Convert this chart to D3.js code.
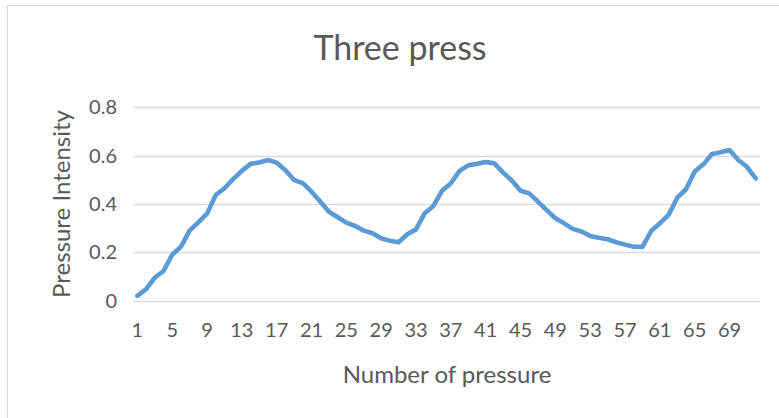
<!DOCTYPE html>
<html>
<head>
<meta charset="utf-8">
<script src="https://cdn.jsdelivr.net/npm/d3@7/dist/d3.min.js"></script>
<style>
  html, body { margin: 0; padding: 0; background: #ffffff; }
  svg { display: block; }
  text { font-family: "Lato", "Open Sans", sans-serif; fill: #595959; }
</style>
</head>
<body>
<svg id="chart" width="779" height="418"></svg>
<script>
// Press sequence numbers 1..72
const categories = d3.range(1, 73);

// Measured pressure intensity for each press
const intensity = [
  0.020, 0.048, 0.095, 0.123, 0.190, 0.223, 0.290, 0.324, 0.360, 0.437,
  0.465, 0.503, 0.537, 0.566, 0.572, 0.582, 0.571, 0.540, 0.499, 0.486,
  0.451, 0.410, 0.368, 0.345, 0.323, 0.309, 0.290, 0.279, 0.258, 0.248,
  0.242, 0.275, 0.295, 0.362, 0.392, 0.455, 0.486, 0.537, 0.560, 0.566,
  0.574, 0.568, 0.530, 0.497, 0.455, 0.444, 0.410, 0.375, 0.341, 0.320,
  0.297, 0.286, 0.268, 0.260, 0.254, 0.242, 0.232, 0.223, 0.223, 0.288,
  0.320, 0.355, 0.426, 0.461, 0.534, 0.564, 0.607, 0.614, 0.623, 0.582,
  0.554, 0.506
];

const yTicks = [0, 0.2, 0.4, 0.6, 0.8];
const xTickLabels = categories.filter(c => (c - 1) % 4 === 0);

const titleText = "Three press";
const xTitle = "Number of pressure";
const yTitle = "Pressure Intensity";

const svg = d3.select("#chart");

// chart frame
svg.append("rect")
  .attr("x", 7.5).attr("y", 5.5)
  .attr("width", 790).attr("height", 430)
  .attr("fill", "#ffffff")
  .attr("stroke", "#d9d9d9").attr("stroke-width", 1);

const plot = { left: 133, right: 760, top: 107.3, bottom: 300.7 };

const x = d3.scaleBand()
  .domain(categories)
  .range([plot.left, plot.right]);

const y = d3.scaleLinear()
  .domain([0, 0.8])
  .range([plot.bottom, plot.top]);

// horizontal gridlines
svg.append("g")
  .selectAll("line")
  .data(yTicks)
  .join("line")
  .attr("x1", plot.left).attr("x2", plot.right)
  .attr("y1", d => Math.round(y(d)) + 0.5)
  .attr("y2", d => Math.round(y(d)) + 0.5)
  .attr("stroke", "#d9d9d9").attr("stroke-width", 1.3);

// y-axis tick labels
const yAxis = d3.axisLeft(y)
  .tickValues(yTicks)
  .tickFormat(d => d === 0 ? "0" : d3.format(".1f")(d))
  .tickSize(0)
  .tickPadding(16);
const gy = svg.append("g")
  .attr("transform", `translate(${plot.left},0)`)
  .call(yAxis);
gy.select(".domain").remove();
gy.selectAll("text")
  .attr("font-size", 20)
  .attr("fill", "#595959")
  .style("font-family", "Lato, 'Open Sans', sans-serif");

// x-axis tick labels
const xAxis = d3.axisBottom(x)
  .tickValues(xTickLabels)
  .tickSize(0)
  .tickPadding(22);
const gx = svg.append("g")
  .attr("transform", `translate(0,${plot.bottom})`)
  .call(xAxis);
gx.select(".domain").remove();
gx.selectAll("text")
  .attr("font-size", 20)
  .attr("fill", "#595959")
  .style("font-family", "Lato, 'Open Sans', sans-serif");

// data line
const line = d3.line()
  .x((d, i) => x(categories[i]) + x.bandwidth() / 2)
  .y(d => y(d));

svg.append("path")
  .datum(intensity)
  .attr("d", line)
  .attr("fill", "none")
  .attr("stroke", "#5b9bd5")
  .attr("stroke-width", 4.6)
  .attr("stroke-linejoin", "round")
  .attr("stroke-linecap", "round");

// titles
svg.append("text")
  .attr("x", 400).attr("y", 60)
  .attr("text-anchor", "middle")
  .attr("font-size", 34)
  .text(titleText);

svg.append("text")
  .attr("x", 447).attr("y", 383)
  .attr("text-anchor", "middle")
  .attr("font-size", 24)
  .text(xTitle);

svg.append("text")
  .attr("transform", `translate(70,${(plot.top + plot.bottom) / 2}) rotate(-90)`)
  .attr("text-anchor", "middle")
  .attr("font-size", 24)
  .text(yTitle);
</script>
</body>
</html>
